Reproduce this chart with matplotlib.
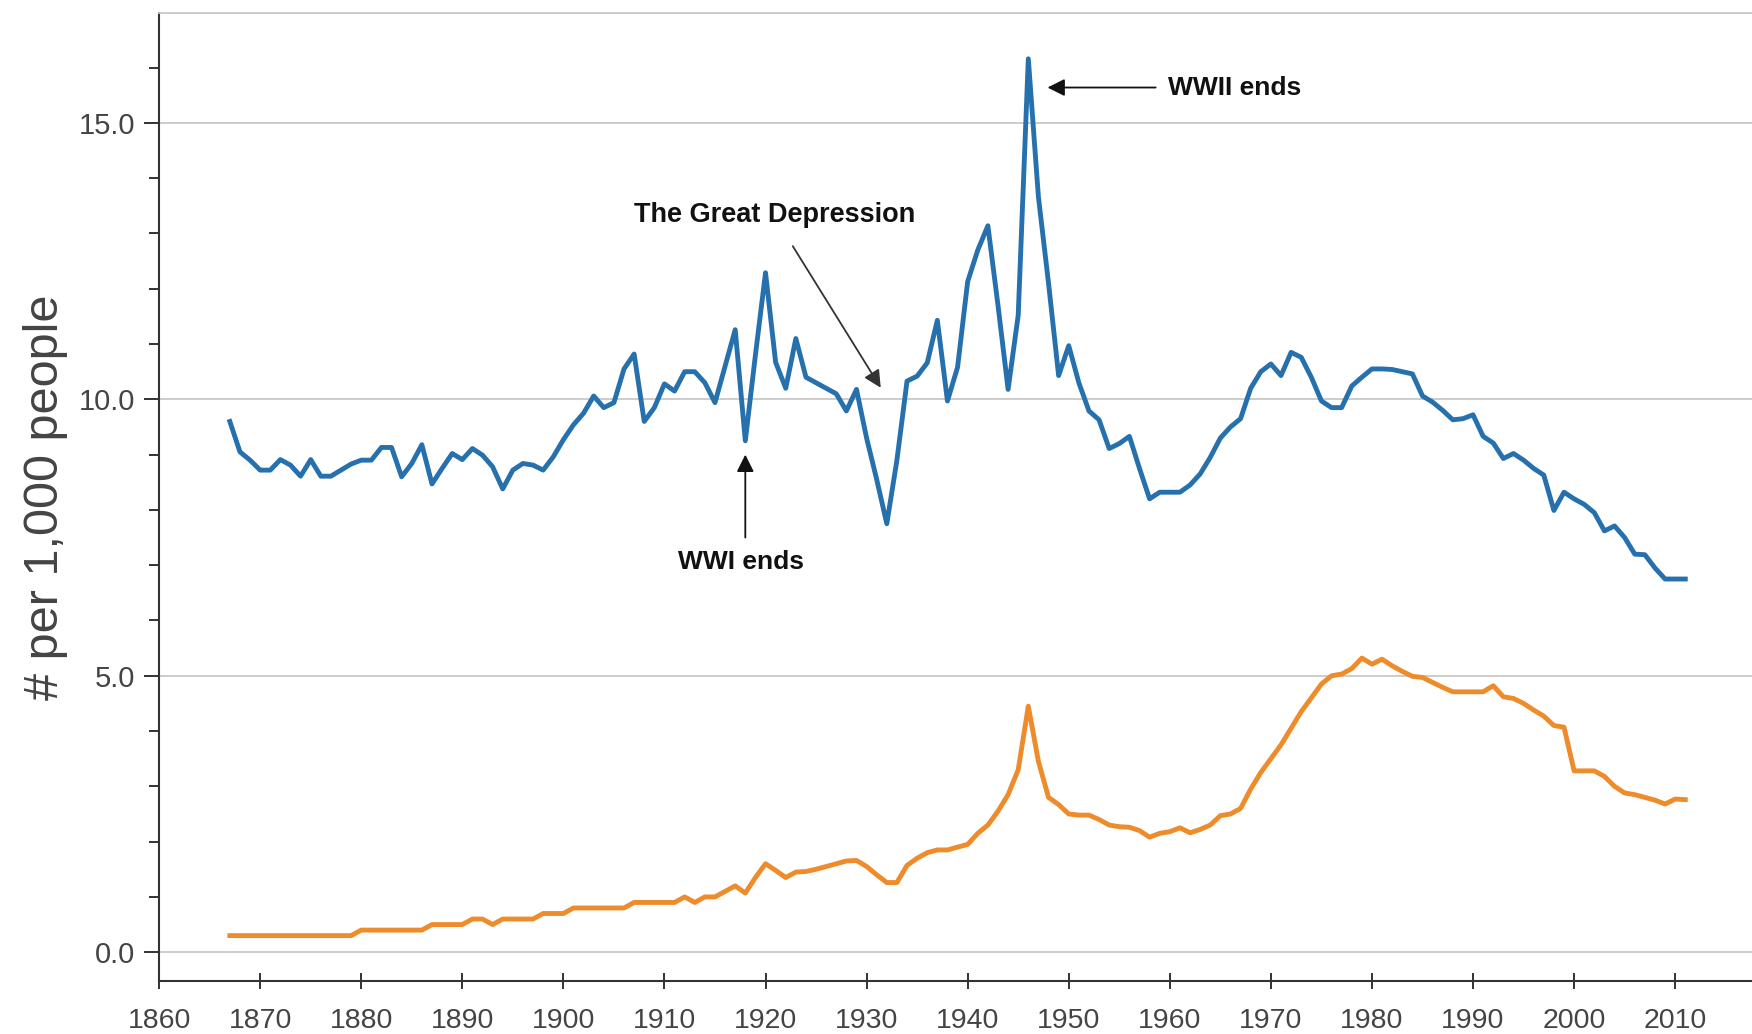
import matplotlib
matplotlib.use("Agg")
import matplotlib.pyplot as plt
from matplotlib.ticker import MultipleLocator, FormatStrFormatter

plt.rcParams['font.family'] = ['Liberation Sans', 'DejaVu Sans']

# yearly rates, per 1,000 people
years = list(range(1867, 2012))

marriage = [
    9.6, 9.05, 8.9, 8.72, 8.72, 8.91, 8.81, 8.61, 8.91, 8.61,          # 1867-1876
    8.61, 8.72, 8.83, 8.9, 8.9, 9.13, 9.13, 8.6, 8.84, 9.18,           # 1877-1886
    8.47, 8.75, 9.02, 8.91, 9.11, 8.99, 8.78, 8.38, 8.72, 8.84,        # 1887-1896
    8.81, 8.72, 8.96, 9.27, 9.54, 9.75, 10.06, 9.85, 9.94, 10.55,      # 1897-1906
    10.82, 9.6, 9.85, 10.28, 10.15, 10.5, 10.5, 10.3, 9.94, 10.6,      # 1907-1916
    11.26, 9.25, 10.8, 12.29, 10.67, 10.2, 11.1, 10.4, 10.3, 10.2,     # 1917-1926
    10.1, 9.79, 10.18, 9.3, 8.55, 7.75, 8.9, 10.33, 10.42, 10.66,      # 1927-1936
    11.43, 9.97, 10.58, 12.13, 12.7, 13.14, 11.7, 10.18, 11.52, 16.16, # 1937-1946
    13.66, 12.1, 10.43, 10.97, 10.3, 9.79, 9.63, 9.11, 9.2, 9.33,      # 1947-1956
    8.75, 8.2, 8.32, 8.32, 8.32, 8.45, 8.65, 8.95, 9.3, 9.5,           # 1957-1966
    9.65, 10.2, 10.5, 10.64, 10.43, 10.85, 10.76, 10.4, 9.97, 9.85,    # 1967-1976
    9.85, 10.24, 10.4, 10.55, 10.55, 10.54, 10.5, 10.46, 10.06, 9.95,  # 1977-1986
    9.8, 9.63, 9.65, 9.72, 9.33, 9.21, 8.93, 9.02, 8.9, 8.75,          # 1987-1996
    8.63, 7.99, 8.32, 8.2, 8.1, 7.95, 7.62, 7.71, 7.5, 7.2,            # 1997-2006
    7.19, 6.95, 6.75, 6.75, 6.75,                                      # 2007-2011
]

divorce = [
    0.3, 0.3, 0.3, 0.3, 0.3, 0.3, 0.3, 0.3, 0.3, 0.3,                  # 1867-1876
    0.3, 0.3, 0.3, 0.4, 0.4, 0.4, 0.4, 0.4, 0.4, 0.4,                  # 1877-1886
    0.5, 0.5, 0.5, 0.5, 0.6, 0.6, 0.5, 0.6, 0.6, 0.6,                  # 1887-1896
    0.6, 0.7, 0.7, 0.7, 0.8, 0.8, 0.8, 0.8, 0.8, 0.8,                  # 1897-1906
    0.9, 0.9, 0.9, 0.9, 0.9, 1.0, 0.9, 1.0, 1.0, 1.1,                  # 1907-1916
    1.2, 1.07, 1.35, 1.6, 1.48, 1.35, 1.45, 1.46, 1.5, 1.55,           # 1917-1926
    1.6, 1.65, 1.66, 1.55, 1.4, 1.26, 1.26, 1.57, 1.7, 1.8,            # 1927-1936
    1.85, 1.85, 1.9, 1.95, 2.15, 2.3, 2.55, 2.85, 3.3, 4.45,           # 1937-1946
    3.45, 2.8, 2.67, 2.5, 2.48, 2.48, 2.4, 2.3, 2.27, 2.26,            # 1947-1956
    2.2, 2.08, 2.15, 2.18, 2.25, 2.16, 2.22, 2.3, 2.47, 2.5,           # 1957-1966
    2.6, 2.95, 3.25, 3.5, 3.75, 4.05, 4.35, 4.6, 4.85, 5.0,            # 1967-1976
    5.03, 5.13, 5.32, 5.21, 5.3, 5.18, 5.08, 4.99, 4.97, 4.88,         # 1977-1986
    4.79, 4.71, 4.71, 4.71, 4.71, 4.82, 4.62, 4.59, 4.5, 4.38,         # 1987-1996
    4.27, 4.1, 4.07, 3.28, 3.28, 3.28, 3.18, 3.0, 2.88, 2.85,          # 1997-2006
    2.8, 2.75, 2.68, 2.77, 2.76,                                       # 2007-2011
]

xticks = list(range(1860, 2011, 10))
yticks_major = [0, 5, 10, 15]

fig = plt.figure(figsize=(17.52, 10.34), dpi=100)
ax = fig.add_axes([0.0908, 0.0513, 0.9092, 0.9357])

ax.plot(years, marriage, color='#2671ad', lw=3.5, solid_joinstyle='round', zorder=3)
ax.plot(years, divorce, color='#ee8b2a', lw=3.5, solid_joinstyle='round', zorder=3)

ax.set_xlim(1860, 2017.6)
ax.set_ylim(-0.52, 16.98)

ax.set_xticks(xticks)
ax.set_yticks(yticks_major)
ax.yaxis.set_minor_locator(MultipleLocator(1))
ax.yaxis.set_major_formatter(FormatStrFormatter('%.1f'))

ax.set_axisbelow(True)
ax.grid(axis='y', which='major', color='#c8c8c8', lw=1.3)

for side in ['left', 'bottom']:
    ax.spines[side].set_color('#333333')
    ax.spines[side].set_linewidth(1.5)
ax.spines['top'].set_color('#c8c8c8')
ax.spines['top'].set_linewidth(1.3)
ax.spines['right'].set_visible(False)

ax.tick_params(axis='y', which='major', direction='out', length=11, width=1.4,
               color='#333333', labelsize=21, labelcolor='#444444', pad=6)
ax.tick_params(axis='y', which='minor', direction='out', length=7, width=1.4,
               color='#333333')
ax.tick_params(axis='x', which='major', direction='inout', length=11, width=1.4,
               color='#333333', labelsize=20.5, labelcolor='#444444', pad=14)

ax.set_ylabel('# per 1,000 people', fontsize=35, color='#444444', labelpad=8)

# annotations
arrow_kw = dict(arrowstyle='-|>', color='#111111', lw=1.3,
                mutation_scale=26, shrinkA=0, shrinkB=0)

ax.annotate('', xy=(1947.9, 15.64), xytext=(1958.6, 15.64), arrowprops=arrow_kw)
ax.text(1959.8, 15.64, 'WWII ends', fontsize=19, fontweight='bold',
        ha='left', va='center', color='#111111')

ax.annotate('', xy=(1931.4, 10.21), xytext=(1922.7, 12.77),
            arrowprops=dict(arrow_kw, color='#333333'))
ax.text(1920.9, 13.33, 'The Great Depression', fontsize=19.5, fontweight='bold',
        ha='center', va='center', color='#111111')

ax.annotate('', xy=(1918.0, 9.0), xytext=(1918.0, 7.5), arrowprops=arrow_kw)
ax.text(1917.6, 7.06, 'WWI ends', fontsize=19, fontweight='bold',
        ha='center', va='center', color='#111111')

plt.savefig('out.png', dpi=100)
